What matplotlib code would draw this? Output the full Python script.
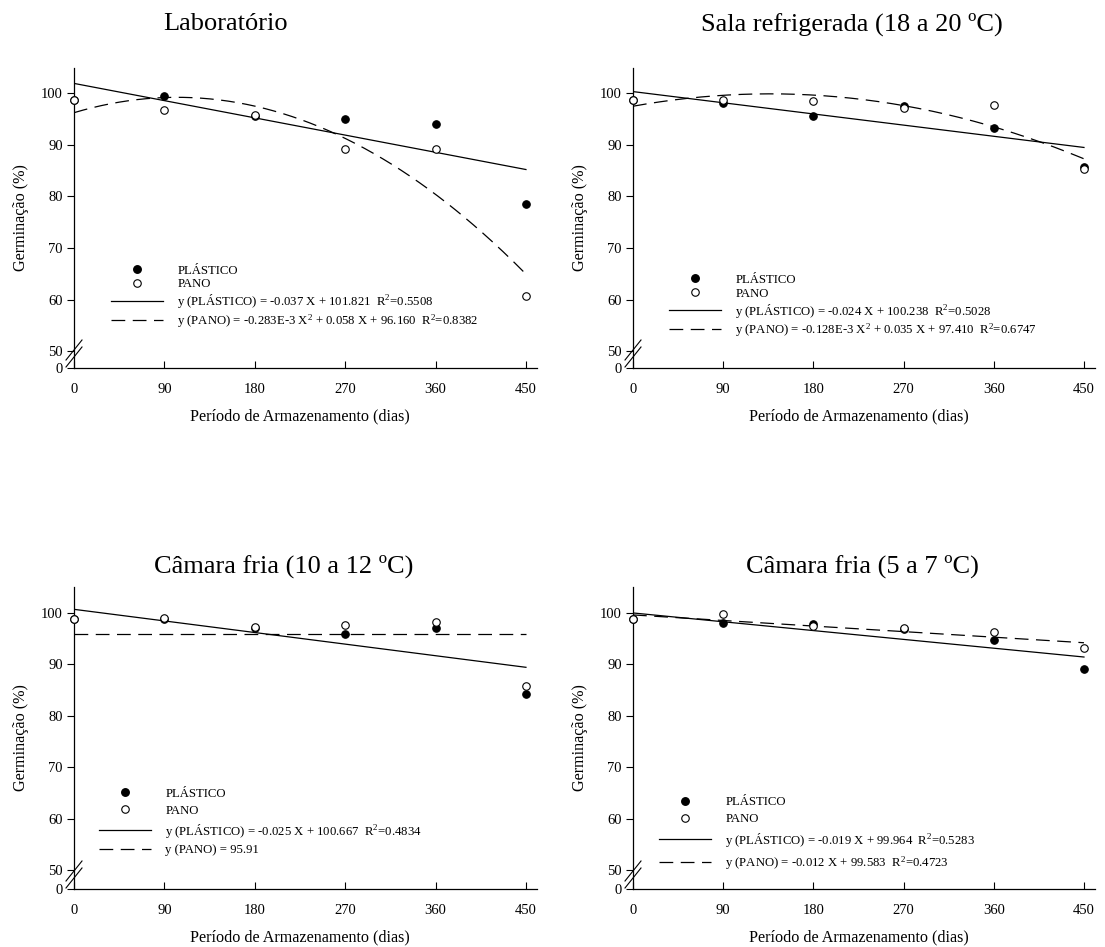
import numpy as np
import matplotlib
matplotlib.use("Agg")
import matplotlib.pyplot as plt
from matplotlib.lines import Line2D

plt.rcParams['font.family'] = ['Liberation Serif', 'DejaVu Serif']
plt.rcParams['mathtext.fontset'] = 'custom'
plt.rcParams['mathtext.rm'] = 'Liberation Serif'
plt.rcParams['mathtext.it'] = 'Liberation Serif:italic'

# ---------------- data ----------------
dias = [0, 90, 180, 270, 360, 450]
xticks = [0, 90, 180, 270, 360, 450]

titles = ["Laboratório", "Sala refrigerada (18 a 20 ºC)",
          "Câmara fria (10 a 12 ºC)", "Câmara fria (5 a 7 ºC)"]

plastico_lab = [98.6, 99.3, 95.6, 95.0, 94.0, 78.6]
pano_lab = [98.6, 96.6, 95.7, 89.1, 89.1, 60.7]

plastico_sala = [98.7, 98.0, 95.6, 97.5, 93.2, 85.7]
pano_sala = [98.7, 98.7, 98.4, 97.0, 97.7, 85.2]

plastico_c1012 = [98.7, 98.7, 97.0, 95.9, 97.0, 84.2]
pano_c1012 = [98.7, 99.0, 97.2, 97.7, 98.2, 85.7]

plastico_c57 = [98.7, 98.1, 97.9, 96.8, 94.7, 89.1]
pano_c57 = [98.7, 99.7, 97.5, 97.0, 96.2, 93.2]

# regression coefficients shown in the chart (highest power first)
coef_plastico = [[-0.037, 101.821], [-0.024, 100.238],
                 [-0.025, 100.667], [-0.019, 99.964]]
coef_pano = [[-0.283e-3, 0.058, 96.160], [-0.128e-3, 0.035, 97.410],
             [95.91], [-0.012, 99.583]]

eq_plastico = ["y (PLÁSTICO) = -0.037 X + 101.821  R$^2$=0.5508",
               "y (PLÁSTICO) = -0.024 X + 100.238  R$^2$=0.5028",
               "y (PLÁSTICO) = -0.025 X + 100.667  R$^{\\mathregular{2}}$=0.4834",
               "y (PLÁSTICO) = -0.019 X + 99.964  R$^{\\mathregular{2}}$=0.5283"]
eq_pano = ["y (PANO) = -0.283E-3 X$^2$ + 0.058 X + 96.160  R$^2$=0.8382",
           "y (PANO) = -0.128E-3 X$^2$ + 0.035 X + 97.410  R$^2$=0.6747",
           "y (PANO) = 95.91",
           "y (PANO) = -0.012 X + 99.583  R$^{\\mathregular{2}}$=0.4723"]

plasticos = [plastico_lab, plastico_sala, plastico_c1012, plastico_c57]
panos = [pano_lab, pano_sala, pano_c1012, pano_c57]

ytick_vals = [50, 60, 70, 80, 90, 100]

# ---------------- layout ----------------
W, H = 1105, 947
fig = plt.figure(figsize=(W / 100, H / 100), dpi=100)

# axes boxes in pixels: left, top, right, bottom
boxes = [(74, 68, 537, 368), (633, 68, 1095, 368),
         (74, 587, 537, 889), (633, 587, 1095, 889)]
ylims = [(46.8, 104.8), (46.8, 104.8), (46.4, 105.0), (46.4, 105.0)]
title_pos = [(226, 24), (852, 24), (284, 566), (862, 566)]
leg_anchor = [(0.080, 0.345), (0.078, 0.314), (0.054, 0.335), (0.056, 0.308)]
leg_spacing = [0.15, 0.15, 0.38, 0.42]

dash = (0, (11, 6))
xfit = np.linspace(0, 450, 200)

for i in range(4):
    l, t, r, b = boxes[i]
    ax = fig.add_axes([l / W, 1 - b / H, (r - l) / W, (b - t) / H])
    x = np.array(dias)

    yp = np.polyval(coef_plastico[i], xfit)
    yn = np.polyval(coef_pano[i], xfit)
    ax.plot(xfit, yp, color='black', lw=0.9)
    ax.plot(xfit, yn, color='black', lw=0.9, linestyle=dash)

    ax.plot(x, plasticos[i], 'o', ms=5.4, mfc='black', mec='black',
            mew=0.8, clip_on=False, zorder=5)
    ax.plot(x, panos[i], 'o', ms=5.4, mfc='white', mec='black',
            mew=0.8, clip_on=False, zorder=6)

    y0, y1 = ylims[i]
    ax.set_xlim(0, 461)
    ax.set_ylim(y0, y1)
    ax.spines['top'].set_visible(False)
    ax.spines['right'].set_visible(False)
    for s in ['left', 'bottom']:
        ax.spines[s].set_linewidth(0.9)

    ax.set_xticks(xticks)
    ax.set_xticklabels([str(v) for v in xticks])
    ax.set_yticks([y0] + ytick_vals)
    ax.set_yticklabels(['0'] + [str(v) for v in ytick_vals])
    ax.tick_params(axis='x', direction='in', length=5, width=0.8, pad=11,
                   labelsize=10.5)
    ax.tick_params(axis='y', direction='out', length=5, width=0.8, pad=3,
                   labelsize=10.5)

    ax.set_xlabel("Período de Armazenamento (dias)", fontsize=11.6)
    ax.xaxis.set_label_coords(225 / 461, -0.135)
    ax.set_ylabel("Germinação (%)", fontsize=11.6, labelpad=9)

    # axis break marks
    for cy in (18, 11):
        fy = cy / (b - t)
        dx = 8 / (r - l)
        dy = 10 / (b - t)
        ax.plot([-dx, dx], [fy - dy, fy + dy], transform=ax.transAxes,
                color='black', lw=0.8, clip_on=False, zorder=7)

    handles = [Line2D([], [], marker='o', ls='none', ms=5.4, mfc='black', mec='black'),
               Line2D([], [], marker='o', ls='none', ms=5.4, mfc='white', mec='black', mew=0.8),
               Line2D([], [], color='black', lw=0.9),
               Line2D([], [], color='black', lw=0.9, linestyle=dash)]
    labels = ["PLÁSTICO", "PANO", eq_plastico[i], eq_pano[i]]
    ax.legend(handles, labels, loc='upper left', bbox_to_anchor=leg_anchor[i],
              frameon=False, fontsize=9.2, handlelength=4.1, handletextpad=1.1,
              labelspacing=leg_spacing[i], borderpad=0, borderaxespad=0)

    tx, ty = title_pos[i]
    fig.text(tx / W, 1 - ty / H, titles[i], fontsize=19, ha='center', va='center')

fig.savefig("out.png", dpi=100)
